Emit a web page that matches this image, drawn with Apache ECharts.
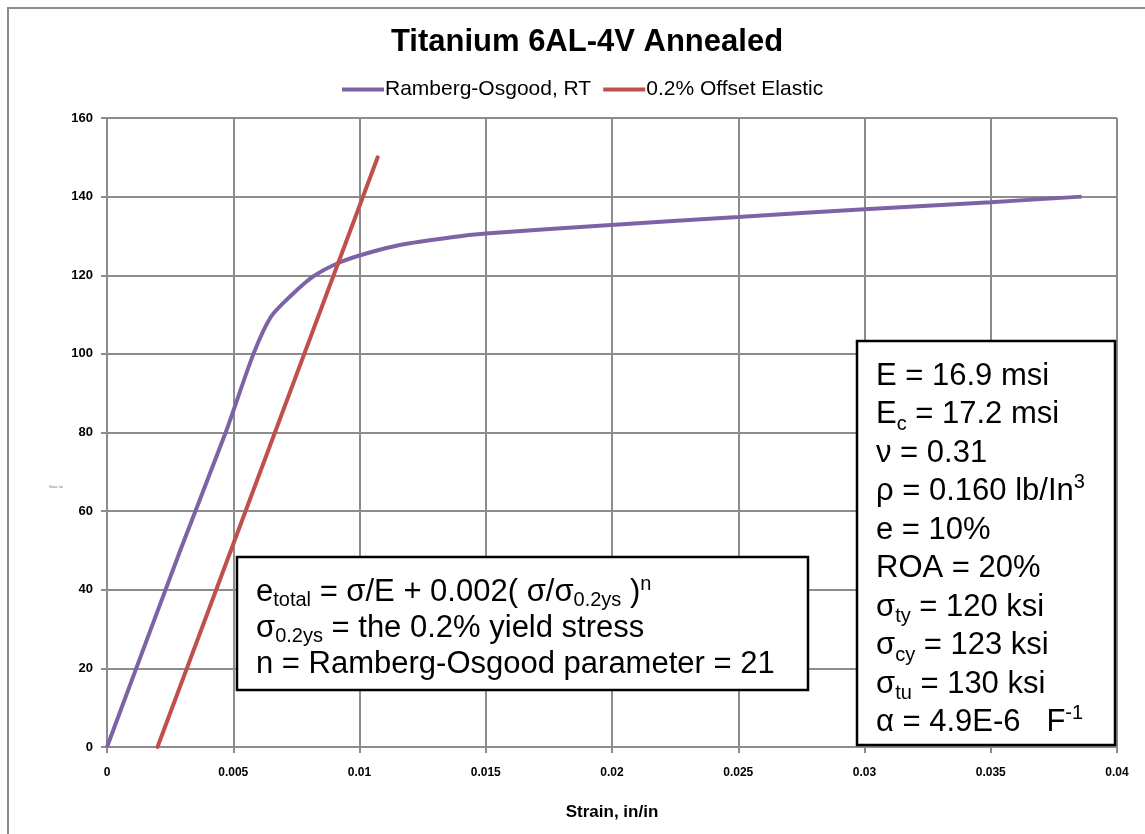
<!DOCTYPE html>
<html>
<head>
<meta charset="utf-8">
<script src="https://cdn.jsdelivr.net/npm/echarts@6/dist/echarts.min.js"></script>
<style>
  html, body { margin: 0; padding: 0; background: #fff; }
  #chart { width: 1145px; height: 834px; }
</style>
</head>
<body>
<div id="chart"></div>
<script>
// Stress-strain curve for annealed Ti-6Al-4V (strain in/in, stress ksi)
const curveStrain = [0, 0.0029, 0.0047, 0.0058, 0.0065, 0.00725, 0.00817, 0.00923, 0.0103, 0.0116, 0.01358, 0.0150, 0.0195, 0.025, 0.030, 0.035, 0.0386];
const curveStress = [0, 50, 80, 100, 109.5, 114.6, 119.7, 123.3, 125.6, 127.7, 129.6, 130.6, 132.6, 134.8, 136.8, 138.6, 140];

// 0.2% offset elastic line
const offsetStrain = [0.002, 0.01072];
const offsetStress = [0, 150];

const seriesNames = ['Ramberg-Osgood, RT', '0.2% Offset Elastic'];

// Axis ticks
const xTicks = [0, 0.005, 0.01, 0.015, 0.02, 0.025, 0.03, 0.035, 0.04];
const yTicks = [0, 20, 40, 60, 80, 100, 120, 140, 160];

const FONT = '"Liberation Sans", Arial, sans-serif';
const GRID_COLOR = '#8c8c8c';

const zip = (xs, ys) => xs.map((x, i) => [x, ys[i]]);

const chart = echarts.init(document.getElementById('chart'), null, { renderer: 'canvas' });

const main = { fontFamily: FONT, fontSize: 31, lineHeight: 36, color: '#000' };
const sub = { fontFamily: FONT, fontSize: 20, lineHeight: 36, verticalAlign: 'bottom', color: '#000' };
const sup = { fontFamily: FONT, fontSize: 20, lineHeight: 36, verticalAlign: 'top', color: '#000' };

const propMain = Object.assign({}, main, { lineHeight: 38.5 });
const propSub = Object.assign({}, sub, { lineHeight: 38.5 });
const propSup = Object.assign({}, sup, { lineHeight: 38.5 });

chart.setOption({
  animation: false,
  backgroundColor: '#fff',
  grid: { left: 107, top: 118, right: 28, bottom: 87, containLabel: false },
  legend: {
    data: seriesNames,
    left: 337,
    top: 74,
    itemWidth: 42,
    itemHeight: 4,
    itemGap: 12,
    icon: 'rect',
    textStyle: { fontFamily: FONT, fontSize: 21, color: '#000', padding: [0, 0, 0, -4] }
  },
  xAxis: {
    type: 'value',
    min: xTicks[0],
    max: xTicks[xTicks.length - 1],
    interval: xTicks[1] - xTicks[0],
    name: 'Strain, in/in',
    nameLocation: 'middle',
    nameGap: 57,
    nameTextStyle: { fontFamily: FONT, fontSize: 17, fontWeight: 'bold', color: '#000' },
    axisLine: { show: true, lineStyle: { color: GRID_COLOR, width: 2 } },
    axisTick: { show: true, length: 6, lineStyle: { color: GRID_COLOR, width: 2 } },
    axisLabel: {
      margin: 20,
      fontFamily: FONT, fontSize: 12, fontWeight: 'bold', color: '#000',
      formatter: v => String(+v.toFixed(3))
    },
    splitLine: { show: true, lineStyle: { color: GRID_COLOR, width: 2 } }
  },
  yAxis: {
    type: 'value',
    min: yTicks[0],
    max: yTicks[yTicks.length - 1],
    interval: yTicks[1] - yTicks[0],
    axisLine: { show: true, lineStyle: { color: GRID_COLOR, width: 2 } },
    axisTick: { show: true, length: 6, lineStyle: { color: GRID_COLOR, width: 2 } },
    axisLabel: {
      margin: 14,
      fontFamily: FONT, fontSize: 13, fontWeight: 'bold', color: '#000'
    },
    splitLine: { show: true, lineStyle: { color: GRID_COLOR, width: 2 } }
  },
  series: [
    {
      name: seriesNames[0],
      type: 'line',
      data: zip(curveStrain, curveStress),
      showSymbol: false,
      symbol: 'none',
      smooth: 0.25,
      lineStyle: { color: '#7E62A6', width: 4 },
      itemStyle: { color: '#7E62A6' },
      z: 2
    },
    {
      name: seriesNames[1],
      type: 'line',
      data: zip(offsetStrain, offsetStress),
      showSymbol: false,
      symbol: 'none',
      lineStyle: { color: '#C0504D', width: 4, cap: 'round' },
      itemStyle: { color: '#C0504D' },
      z: 3
    }
  ],
  graphic: [
    // outer chart-area frame
    {
      type: 'rect', z: 0, silent: true,
      shape: { x: 8, y: 8, width: 1170, height: 860 },
      style: { fill: 'none', stroke: '#8c8c8c', lineWidth: 2 }
    },
    // title
    {
      type: 'text', z: 10,
      x: 587, y: 42,
      style: {
        text: 'Titanium 6AL-4V Annealed',
        fontFamily: FONT, fontSize: 31, fontWeight: 'bold', fill: '#000',
        align: 'center', verticalAlign: 'middle'
      }
    },
    // tiny y-axis caption
    {
      type: 'text', z: 10,
      x: 56, y: 487,
      style: {
        text: 'Stress, ksi',
        fontFamily: FONT, fontSize: 3, fill: '#666',
        align: 'center', verticalAlign: 'middle'
      }
    },
    // Ramberg-Osgood equation box
    {
      type: 'rect', z: 20,
      shape: { x: 237, y: 557, width: 571, height: 133 },
      style: { fill: '#fff', stroke: '#000', lineWidth: 2.5 }
    },
    {
      type: 'text', z: 21,
      x: 256, y: 574,
      style: {
        text: [
          '{m|e}{s|total}{m| = σ/E + 0.002( σ/σ}{s|0.2ys}{m| )}{p|n}',
          '{m|σ}{s|0.2ys}{m| = the 0.2% yield stress}',
          '{m|n = Ramberg-Osgood parameter = 21}'
        ].join('\n'),
        rich: { m: main, s: sub, p: sup }
      }
    },
    // material properties box
    {
      type: 'rect', z: 20,
      shape: { x: 857, y: 341, width: 258, height: 404 },
      style: { fill: '#fff', stroke: '#000', lineWidth: 2.5 }
    },
    {
      type: 'text', z: 21,
      x: 876, y: 357,
      style: {
        text: [
          '{m|E = 16.9 msi}',
          '{m|E}{s|c}{m| = 17.2 msi}',
          '{m|ν = 0.31}',
          '{m|ρ = 0.160 lb/In}{p|3}',
          '{m|e = 10%}',
          '{m|ROA = 20%}',
          '{m|σ}{s|ty}{m| = 120 ksi}',
          '{m|σ}{s|cy}{m| = 123 ksi}',
          '{m|σ}{s|tu}{m| = 130 ksi}',
          '{m|α = 4.9E-6   F}{p|-1}'
        ].join('\n'),
        rich: { m: propMain, s: propSub, p: propSup }
      }
    }
  ]
});
</script>
</body>
</html>
